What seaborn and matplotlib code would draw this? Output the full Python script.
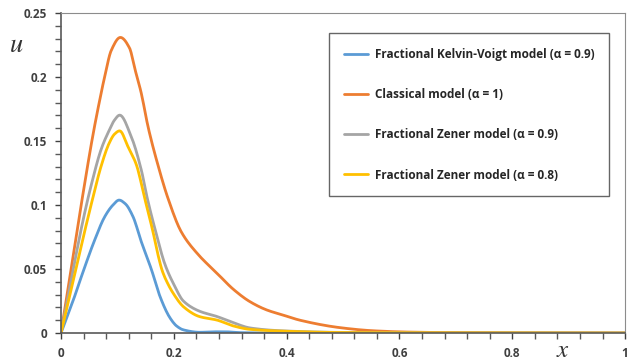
import numpy as np
import pandas as pd
import matplotlib
matplotlib.use("Agg")
import matplotlib.pyplot as plt
import seaborn as sns
from matplotlib.ticker import MultipleLocator

# values
x_kv = [0.0, 0.022, 0.040, 0.0597, 0.0775, 0.092, 0.103, 0.114, 0.1277, 0.1424, 0.160,
        0.176, 0.193, 0.205, 0.217, 0.246, 0.270, 0.290, 0.320, 0.400, 1.0]
u_kv = [0.0, 0.026, 0.049, 0.0727, 0.0909, 0.1000, 0.1039, 0.1010, 0.0909, 0.0713, 0.050,
        0.028, 0.012, 0.0055, 0.0025, 0.0006, 0.001, 0.001, 0.0003, 0.0, 0.0]

x_cl = [0.0, 0.0271, 0.042, 0.0567, 0.0686, 0.0775, 0.0892, 0.1052, 0.1218, 0.1300,
        0.1424, 0.1543, 0.172, 0.1897, 0.2133, 0.2429, 0.276, 0.306, 0.335, 0.365,
        0.394, 0.424, 0.495, 0.553, 0.613, 0.700, 0.800, 1.0]
u_cl = [0.0, 0.076, 0.117, 0.155, 0.182, 0.2005, 0.2210, 0.2310, 0.2224, 0.2080,
        0.1872, 0.1612, 0.131, 0.1052, 0.079, 0.0615, 0.047, 0.034, 0.0245, 0.018,
        0.014, 0.010, 0.0042, 0.0018, 0.0008, 0.0003, 0.0001, 0.0]

x_z9 = [0.0, 0.020, 0.039, 0.0538, 0.0715, 0.085, 0.095, 0.104, 0.1246, 0.1424, 0.153,
        0.168, 0.184, 0.200, 0.217, 0.246, 0.276, 0.306, 0.335, 0.394, 0.500, 1.0]
u_z9 = [0.0, 0.046, 0.088, 0.116, 0.144, 0.158, 0.1665, 0.1703, 0.1534, 0.1273, 0.1052,
        0.079, 0.054, 0.038, 0.025, 0.017, 0.013, 0.008, 0.004, 0.0017, 0.0005, 0.0]

x_z8 = [0.0, 0.020, 0.039, 0.0538, 0.0715, 0.085, 0.095, 0.104, 0.1188, 0.1336, 0.1484,
        0.1631, 0.172, 0.180, 0.190, 0.199, 0.217, 0.246, 0.276, 0.306, 0.335, 0.394,
        0.500, 1.0]
u_z8 = [0.0, 0.038, 0.074, 0.101, 0.131, 0.148, 0.1555, 0.158, 0.1456, 0.1315, 0.1052,
        0.079, 0.061, 0.048, 0.038, 0.031, 0.0206, 0.0128, 0.0102, 0.0055, 0.0029, 0.0015,
        0.0004, 0.0]

labels = ["Fractional Kelvin-Voigt model (α = 0.9)",
          "Classical model (α = 1)",
          "Fractional Zener model (α = 0.9)",
          "Fractional Zener model (α = 0.8)"]
colors = ["#5B9BD5", "#ED7D31", "#A5A5A5", "#FFC000"]


def smooth(xs, us, n=500):
    # PCHIP-style cubic through the read points, keeps tails from overshooting
    xs = np.asarray(xs, float)
    us = np.asarray(us, float)
    h = np.diff(xs)
    d = np.diff(us) / h
    m = np.zeros_like(us)
    for i in range(1, len(xs) - 1):
        if d[i - 1] * d[i] > 0:
            w1 = 2 * h[i] + h[i - 1]
            w2 = h[i] + 2 * h[i - 1]
            m[i] = (w1 + w2) / (w1 / d[i - 1] + w2 / d[i])
    m[0] = d[0]
    m[-1] = d[-1]
    xx = np.linspace(xs[0], xs[-1], n)
    idx = np.clip(np.searchsorted(xs, xx) - 1, 0, len(xs) - 2)
    t = (xx - xs[idx]) / h[idx]
    h00 = 2 * t**3 - 3 * t**2 + 1
    h10 = t**3 - 2 * t**2 + t
    h01 = -2 * t**3 + 3 * t**2
    h11 = t**3 - t**2
    yy = (h00 * us[idx] + h10 * h[idx] * m[idx]
          + h01 * us[idx + 1] + h11 * h[idx] * m[idx + 1])
    return xx, np.clip(yy, 0, None)


frames = []
for lab, xs, us in zip(labels, [x_kv, x_cl, x_z9, x_z8], [u_kv, u_cl, u_z9, u_z8]):
    xx, yy = smooth(xs, us)
    frames.append(pd.DataFrame({"x": xx, "u": yy, "model": lab}))
df = pd.concat(frames, ignore_index=True)

sns.set_style("white")
plt.rcParams["font.family"] = ["Open Sans", "DejaVu Sans"]
plt.rcParams["mathtext.fontset"] = "stix"

fig = plt.figure(figsize=(6.27, 3.64), dpi=100)
ax = fig.add_axes([0.0973, 0.085, 0.8997, 0.879])

sns.lineplot(data=df, x="x", y="u", hue="model", hue_order=labels,
             palette=colors, linewidth=2, estimator=None, sort=False, ax=ax)

ax.set_xlim(0, 1)
ax.set_ylim(0, 0.25)
ax.xaxis.set_minor_locator(MultipleLocator(0.04))
ax.yaxis.set_minor_locator(MultipleLocator(0.01))
ax.set_xticks([0, 0.2, 0.4, 0.6, 0.8, 1.0])
ax.set_xticklabels(["0", "0.2", "0.4", "0.6", "0.8", "1"])
ax.set_yticks([0, 0.05, 0.1, 0.15, 0.2, 0.25])
ax.set_yticklabels(["0", "0.05", "0.1", "0.15", "0.2", "0.25"])
ax.tick_params(which="both", direction="out", length=4, width=1, color="#595959",
               bottom=True, left=True)
ax.tick_params(labelsize=8.5, colors="#404040", pad=6)
for t in ax.get_xticklabels() + ax.get_yticklabels():
    t.set_fontweight("bold")

for side in ["left", "bottom"]:
    ax.spines[side].set_color("#595959")
    ax.spines[side].set_linewidth(1.2)
for side in ["top", "right"]:
    ax.spines[side].set_color("#8c8c8c")
    ax.spines[side].set_linewidth(0.8)

ax.set_xlabel("")
ax.set_ylabel("")
fig.text(0.026, 0.875, "$u$", fontsize=19, color="#333333", ha="center", va="center")
fig.text(0.898, 0.038, "$x$", fontsize=18, color="#333333", ha="center", va="center")

leg = ax.legend(loc="upper right", bbox_to_anchor=(0.982, 0.955), frameon=True,
                fancybox=False, edgecolor="#404040", handlelength=2.0,
                labelspacing=2.3, borderpad=1.25, handletextpad=0.6,
                prop={"size": 8.5, "weight": "bold"})
leg.get_frame().set_linewidth(1.0)
for line in leg.get_lines():
    line.set_linewidth(2)
for t in leg.get_texts():
    t.set_color("#262626")

fig.savefig("out.png", dpi=100)
